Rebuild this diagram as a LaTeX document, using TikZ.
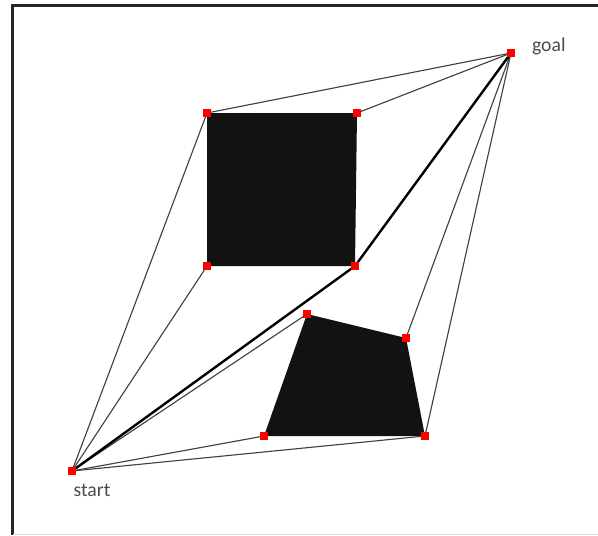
\documentclass[tikz,border=0pt]{standalone}
\usepackage{fontspec}
\setmainfont{Carlito}
\usepackage{xcolor}
\usetikzlibrary{positioning}

\begin{document}
\begin{tikzpicture}[x=0.025cm, y=-0.025cm]
        \useasboundingbox (0,0) rectangle (598,535);
        \tikzset{vtx/.style={fill=red, inner sep=0pt, minimum size=0.19cm},
                 edge/.style={line width=0.8pt, black!75},
                 path/.style={line width=1.7pt, black},
                 lbl/.style={font=\fontsize{14}{16}\selectfont, text=black!70}}
        % Frame
        \draw[line width=2.2pt, black!85] (12.5,535) -- (12.5,5.5) -- (598,5.5);
        \draw[line width=0.5pt, black!12] (12.5,534) -- (598,534);

        % Nodes
        \node (g) [vtx] at (511,53) {};
        \node (s) [vtx] at (72,471) {};
        \node (a1) [vtx] at (207,113) {};
        \node (a2) [vtx] at (357,113) {};
        \node (a3) [vtx] at (355,266) {};
        \node (a4) [vtx] at (207,266) {};
        \node (b1) [vtx] at (307,314) {};
        \node (b2) [vtx] at (406,338) {};
        \node (b3) [vtx] at (425,436) {};
        \node (b4) [vtx] at (264,436) {};
        \node (gl) [lbl, right=0.3cm of g, yshift=0.17cm] {goal};
        \node (sl) [lbl, below=0.1cm of s, xshift=0.5cm] {start};

        % Obstacles
        \fill[black!93] (a1.center) -- (a2.center) -- (a3.center) -- (a4.center) -- cycle;
        \fill[black!93] (b1.center) -- (b2.center) -- (b3.center) -- (b4.center) -- cycle;

        % Edges
        \draw[edge] (s.center) -- (a1.center);
        \draw[edge] (s.center) -- (a4.center);
        \draw[edge] (s.center) -- (b1.center);
        \draw[edge] (s.center) -- (b4.center);
        \draw[edge] (s.center) -- (b3.center);
        \draw[edge] (g.center) -- (a1.center);
        \draw[edge] (g.center) -- (a2.center);
        \draw[edge] (g.center) -- (b2.center);
        \draw[edge] (g.center) -- (b3.center);

        % Shortest path
        \draw[path] (s.center) -- (a3.center) -- (g.center);

        % Vertices on top
        \foreach \v in {g,s,a1,a2,a3,a4,b1,b2,b3,b4}
            \fill[red] (\v.south west) rectangle (\v.north east);
    \end{tikzpicture}
\end{document}
